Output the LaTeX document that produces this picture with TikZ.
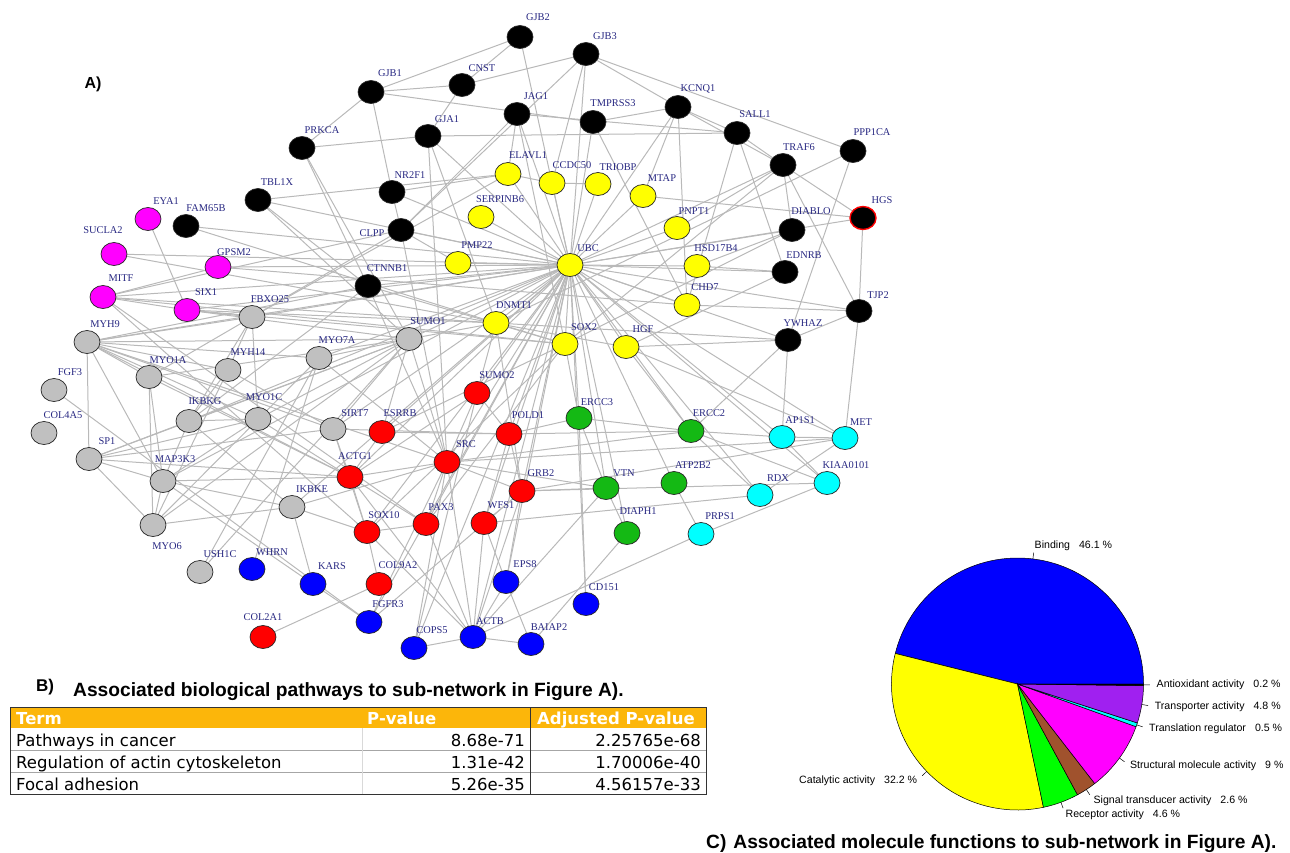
\documentclass[tikz,border=0pt]{standalone}
\usepackage{fontspec}
\setmainfont{Liberation Serif}
\newfontfamily\lsans{Liberation Sans}
\newfontfamily\dvsans{DejaVu Sans}
\usetikzlibrary{shapes.geometric,backgrounds}
\definecolor{lab}{RGB}{40,40,130}
\definecolor{edgegray}{RGB}{185,185,185}
\definecolor{ggray}{RGB}{192,192,192}
\definecolor{ggreen}{RGB}{20,185,20}
\definecolor{gyellow}{RGB}{255,255,0}
\definecolor{gmag}{RGB}{255,0,255}
\definecolor{gcyan}{RGB}{0,255,255}
\definecolor{gblue}{RGB}{0,0,255}
\definecolor{gred}{RGB}{255,0,0}
\definecolor{pgreen}{RGB}{0,255,0}
\definecolor{tblorange}{RGB}{252,182,10}
\definecolor{piepurple}{RGB}{160,32,240}
\definecolor{piebrown}{RGB}{160,82,45}
\tikzset{
 gene/.style={ellipse, draw=black!85, line width=0.7pt, minimum width=26pt, minimum height=23pt, inner sep=0pt},
 glabel/.style={text=lab, font=\fontsize{10.4}{11}\selectfont, inner sep=0pt},
 netedge/.style={draw=edgegray, line width=1pt},
 blk/.style={fill=black}, ylw/.style={fill=gyellow}, mag/.style={fill=gmag},
 gry/.style={fill=ggray}, rd/.style={fill=gred}, grn/.style={fill=ggreen},
 blu/.style={fill=gblue}, cyn/.style={fill=gcyan},
 hgs/.style={fill=black, draw=gred, line width=1.4pt},
 pielab/.style={font=\lsans\fontsize{10.6}{11}\selectfont, inner sep=0pt},
 ttl/.style={font=\lsans\bfseries\fontsize{19.2}{21}\selectfont, inner sep=0pt, anchor=base west},
 tbody/.style={font=\dvsans\fontsize{16.5}{17}\selectfont, inner sep=0pt},
 thead/.style={font=\dvsans\bfseries\fontsize{16.5}{17}\selectfont, text=white, inner sep=0pt},
}
\newcommand\gn[5]{\node[gene,#4] (#1) at (#2,#3) {}; \node[glabel] (#1-lab) at (#5) {#1};}
\begin{document}
\begin{tikzpicture}[x=1pt,y=-1pt]
\useasboundingbox (0,0) rectangle (1290,852);
% ---------- nodes ----------
\gn{GJB2}{520}{37}{blk}{538,17}
\gn{GJB3}{586}{54}{blk}{605,36}
\gn{GJB1}{371}{92}{blk}{390,73}
\gn{CNST}{462}{85}{blk}{482,68}
\gn{JAG1}{517}{114}{blk}{536,96}
\gn{TMPRSS3}{593}{122}{blk}{613,103}
\gn{GJA1}{428}{136}{blk}{447,119}
\gn{PRKCA}{302}{148}{blk}{322,130}
\gn{NR2F1}{392}{192}{blk}{410,175}
\gn{TBL1X}{258}{200}{blk}{277,182}
\gn{CLPP}{401}{230}{blk}{372,233}
\gn{KCNQ1}{678}{107}{blk}{698,89}
\gn{SALL1}{737}{133}{blk}{755,114}
\gn{TRAF6}{783}{165}{blk}{799,147}
\gn{PPP1CA}{853}{151}{blk}{872,132}
\gn{HGS}{863}{218}{hgs}{882,200}
\gn{DIABLO}{792}{230}{blk}{811,211}
\gn{EDNRB}{785}{272}{blk}{804,255}
\gn{TJP2}{859}{311}{blk}{878,295}
\gn{YWHAZ}{788}{340}{blk}{803,323}
\gn{FAM65B}{186}{226}{blk}{206,208}
\gn{CTNNB1}{368}{286}{blk}{387,268}
\gn{ELAVL1}{508}{174}{ylw}{528,155}
\gn{CCDC50}{552}{183}{ylw}{572,165}
\gn{TRIOBP}{598}{184}{ylw}{618,167}
\gn{MTAP}{643}{196}{ylw}{662,178}
\gn{SERPINB6}{481}{217}{ylw}{500,199}
\gn{PMP22}{458}{263}{ylw}{477,245}
\gn{UBC}{570}{265}{ylw}{588,248}
\gn{PNPT1}{677}{228}{ylw}{694,211}
\gn{HSD17B4}{697}{266}{ylw}{716,248}
\gn{CHD7}{687}{305}{ylw}{705,287}
\gn{DNMT1}{496}{323}{ylw}{514,305}
\gn{SOX2}{565}{344}{ylw}{584,327}
\gn{HGF}{626}{347}{ylw}{643,329}
\gn{EYA1}{148}{219}{mag}{166,201}
\gn{SUCLA2}{114}{254}{mag}{103,230}
\gn{GPSM2}{218}{267}{mag}{234,252}
\gn{MITF}{103}{297}{mag}{121,278}
\gn{SIX1}{187}{310}{mag}{206,292}
\gn{FBXO25}{252}{317}{gry}{270,299}
\gn{MYH9}{87}{342}{gry}{105,324}
\gn{MYO1A}{149}{377}{gry}{168,360}
\gn{MYH14}{228}{370}{gry}{248,352}
\gn{MYO7A}{319}{358}{gry}{337,340}
\gn{FGF3}{54}{390}{gry}{70,372}
\gn{SUMO1}{409}{339}{gry}{428,321}
\gn{COL4A5}{44}{433}{gry}{63,415}
\gn{IKBKG}{189}{421}{gry}{205,401}
\gn{MYO1C}{258}{419}{gry}{264,397}
\gn{SIRT7}{333}{429}{gry}{355,413}
\gn{SP1}{89}{459}{gry}{107,441}
\gn{MAP3K3}{163}{481}{gry}{175,459}
\gn{IKBKE}{292}{507}{gry}{312,489}
\gn{MYO6}{153}{525}{gry}{167,546}
\gn{USH1C}{200}{572}{gry}{220,554}
\gn{SUMO2}{477}{393}{rd}{497,375}
\gn{ESRRB}{382}{432}{rd}{400,413}
\gn{POLD1}{509}{434}{rd}{528,415}
\gn{SRC}{447}{462}{rd}{466,444}
\gn{ACTG1}{350}{477}{rd}{355,456}
\gn{GRB2}{522}{491}{rd}{541,473}
\gn{SOX10}{367}{532}{rd}{384,515}
\gn{PAX3}{426}{524}{rd}{441,507}
\gn{WFS1}{484}{523}{rd}{501,505}
\gn{COL9A2}{379}{584}{rd}{398,565}
\gn{COL2A1}{263}{637}{rd}{263,617}
\gn{ERCC3}{579}{418}{grn}{597,402}
\gn{ERCC2}{691}{431}{grn}{709,413}
\gn{VTN}{606}{488}{grn}{624,473}
\gn{ATP2B2}{674}{483}{grn}{693,465}
\gn{DIAPH1}{627}{533}{grn}{638,511}
\gn{AP1S1}{782}{437}{cyn}{800,420}
\gn{MET}{845}{438}{cyn}{861,422}
\gn{RDX}{760}{495}{cyn}{778,478}
\gn{KIAA0101}{827}{483}{cyn}{846,465}
\gn{PRPS1}{701}{534}{cyn}{720,516}
\gn{WHRN}{252}{569}{blu}{272,552}
\gn{KARS}{313}{584}{blu}{332,566}
\gn{FGFR3}{369}{622}{blu}{388,604}
\gn{EPS8}{506}{582}{blu}{525,564}
\gn{CD151}{586}{604}{blu}{604,587}
\gn{COPS5}{414}{648}{blu}{432,630}
\gn{ACTB}{473}{637}{blu}{490,621}
\gn{BAIAP2}{531}{644}{blu}{549,627}
% ---------- edges ----------
\begin{pgfonlayer}{background}
\foreach \a/\b in {UBC/ELAVL1, UBC/CCDC50, UBC/TRIOBP, UBC/MTAP, UBC/SERPINB6, UBC/PMP22, UBC/PNPT1, UBC/HSD17B4, UBC/CHD7, UBC/DNMT1, UBC/SOX2, UBC/HGF, UBC/GJB3, UBC/GJB2, UBC/JAG1, UBC/TMPRSS3, UBC/KCNQ1, UBC/TRAF6, UBC/DIABLO, UBC/EDNRB, UBC/YWHAZ, UBC/TJP2, UBC/CLPP, UBC/CTNNB1, UBC/NR2F1, UBC/GJA1, UBC/SUMO1, UBC/SUMO2, UBC/SRC, UBC/POLD1, UBC/ERCC3, UBC/ERCC2, UBC/VTN, UBC/ATP2B2, UBC/GRB2, UBC/WFS1, UBC/AP1S1, UBC/MET, UBC/RDX, UBC/KIAA0101, UBC/DIAPH1, UBC/ACTB, UBC/EPS8, UBC/COPS5, UBC/PAX3, UBC/ACTG1, UBC/MITF, UBC/SIX1, UBC/FBXO25, UBC/MYH9, UBC/SOX10, UBC/ESRRB, UBC/TBL1X, UBC/FAM65B, UBC/GPSM2, UBC/SUCLA2, UBC/IKBKG, UBC/MAP3K3, UBC/SIRT7, UBC/IKBKE, UBC/HGS, UBC/MYO7A, UBC/FGFR3, UBC/CD151,
GJB2/GJB1, GJB2/CNST, GJB3/CNST, GJB3/KCNQ1, GJB3/CCDC50, GJB3/CLPP, GJB3/PPP1CA, GJB1/CNST, GJB1/PRKCA, GJB1/NR2F1, GJB1/TMPRSS3, CNST/GJA1, KCNQ1/SALL1, KCNQ1/TRAF6, KCNQ1/TMPRSS3, KCNQ1/MTAP, KCNQ1/CHD7, SALL1/TRAF6, SALL1/EDNRB, SALL1/JAG1, SALL1/GJA1, SALL1/CHD7, TRAF6/HGS, TRAF6/DIABLO, TRAF6/TJP2, TRAF6/PNPT1, TRAF6/SOX2, PPP1CA/YWHAZ, PPP1CA/DNMT1, HGS/TJP2, HGS/MTAP, DIABLO/HSD17B4, DIABLO/SOX2, EDNRB/HSD17B4, EDNRB/HGF, TJP2/YWHAZ, TJP2/MET, TJP2/CHD7, YWHAZ/HGF, YWHAZ/AP1S1, YWHAZ/ERCC2, YWHAZ/DNMT1, JAG1/CLPP, JAG1/ELAVL1, JAG1/SOX2, TMPRSS3/CHD7, GJA1/PRKCA, GJA1/SRC, PRKCA/CTNNB1, PRKCA/SUMO1, NR2F1/ELAVL1, NR2F1/CLPP, TBL1X/ELAVL1, TBL1X/SUMO1, TBL1X/CTNNB1, FAM65B/DNMT1, CLPP/PMP22, CLPP/MITF, CLPP/SRC, CTNNB1/MYH9, CTNNB1/SRC, CTNNB1/SOX2, CTNNB1/IKBKG, GJA1/DNMT1,
EYA1/SIX1, SUCLA2/HGF, GPSM2/MITF, GPSM2/CHD7, MITF/SIX1, MITF/SOX10, MITF/SOX2, MITF/DNMT1, MITF/PAX3, SIX1/DNMT1, SIX1/SUMO1, SIX1/FBXO25, SIX1/SOX2,
FBXO25/MYH9, FBXO25/MYO1A, FBXO25/MYH14, FBXO25/MYO1C, FBXO25/CLPP, FBXO25/IKBKG, FBXO25/ELAVL1, MYH9/MYO1A, MYH9/MYH14, MYH9/MYO1C, MYH9/MYO7A, MYH9/SP1, MYH9/SUMO1, MYH9/MAP3K3, MYH9/ACTG1, MYH9/SIRT7, MYH9/SRC, MYO1A/MAP3K3, MYO1A/MYO6, MYO1A/SUMO1, MYO1A/ACTG1, MYH14/IKBKG, MYH14/SIRT7, MYH14/MYO6, MYO7A/MYO6, MYO7A/USH1C, MYO7A/WHRN, MYO7A/SUMO1, MYO7A/SRC, FGF3/FGFR3, SP1/IKBKG, SP1/MYO1C, SP1/SIRT7, SP1/MAP3K3, SP1/MYO6, SP1/ACTG1, SP1/SUMO1, IKBKG/MAP3K3, IKBKG/IKBKE, IKBKG/MYO1C, IKBKG/SUMO1, MYO1C/MAP3K3, MYO1C/ACTG1, MYO1C/SUMO1, MAP3K3/MYO6, MAP3K3/ACTG1, MAP3K3/IKBKE, MAP3K3/KARS, MYO6/IKBKE, MYO6/SUMO1, SIRT7/SUMO1, SIRT7/POLD1, SIRT7/SOX10, IKBKE/SOX10, IKBKE/KARS, IKBKE/SRC, USH1C/SUMO1,
KARS/FGFR3, COL2A1/COL9A2, COL9A2/SOX10, FGFR3/SRC, FGFR3/GRB2, COPS5/ACTB, COPS5/SRC, COPS5/SUMO2, ACTB/BAIAP2, ACTB/EPS8, ACTB/SRC, ACTB/ACTG1, ACTB/WFS1, ACTB/GRB2, ACTB/PRPS1, ACTB/SOX10, ACTB/PAX3, ACTB/VTN, EPS8/WFS1, EPS8/BAIAP2, EPS8/GRB2, BAIAP2/DIAPH1, CD151/ERCC3, DIAPH1/VTN, PRPS1/ATP2B2, PRPS1/KIAA0101, VTN/GRB2, VTN/SRC, WFS1/RDX, VTN/ERCC3, RDX/ERCC2, RDX/MET, AP1S1/MET, AP1S1/KIAA0101, AP1S1/ERCC2, MET/SRC, MET/GRB2, MET/HGF, KIAA0101/GRB2, KIAA0101/ERCC2, ERCC2/ERCC3, ERCC2/POLD1, ERCC2/SRC, ERCC3/POLD1, ERCC3/SOX2, SUMO2/SRC, SUMO2/POLD1, SUMO2/DNMT1, SUMO2/ACTG1, ESRRB/SOX2, ESRRB/POLD1, ESRRB/SUMO1, POLD1/WFS1, POLD1/GRB2, SRC/GRB2, SRC/ACTG1, SRC/SUMO1, SRC/PAX3, ACTG1/SOX10, ACTG1/PAX3, ACTG1/ESRRB, ACTG1/SIRT7, GRB2/WFS1, SOX10/PAX3, SOX10/SOX2, PAX3/SOX2,
ELAVL1/CCDC50, CCDC50/TRIOBP, DNMT1/SOX2, DNMT1/SUMO1, DNMT1/GRB2, HGF/ERCC2}
  \draw[netedge] (\a.center) -- (\b.center);
\end{pgfonlayer}
% ---------- titles ----------
\node[font=\lsans\bfseries\fontsize{16}{18}\selectfont, inner sep=0pt] (tA) at (93,84) {A)};
\node[font=\lsans\bfseries\fontsize{17}{19}\selectfont, inner sep=0pt, anchor=base west] (tB) at (36,691) {B)};
\node[ttl] (tBtext) at (73,696) {Associated biological pathways to sub-network in Figure A).};
\node[ttl] (tC) at (706,848) {C)\hspace{7pt}Associated molecule functions to sub-network in Figure A).};
% ---------- table ----------
\fill[tblorange] (10,707) rectangle (706,728);
\draw[black!35, line width=0.6pt] (10,750) -- (706,750) (10,772) -- (706,772);
\draw[black!15, line width=0.6pt] (362,728) -- (362,794);
\draw[black!80, line width=0.8pt] (530,707) -- (530,794);
\draw[black!80, line width=0.8pt] (10,707) rectangle (706,794);
\node[thead, anchor=base west] (h1) at (16,724) {Term};
\node[thead, anchor=base west] (h2) at (367,724) {P-value};
\node[thead, anchor=base west] (h3) at (537,724) {Adjusted P-value};
\node[tbody, anchor=base west] (r1a) at (16,746) {Pathways in cancer};
\node[tbody, anchor=base east] (r1b) at (525,746) {8.68e-71};
\node[tbody, anchor=base east] (r1c) at (701,746) {2.25765e-68};
\node[tbody, anchor=base west] (r2a) at (16,768) {Regulation of actin cytoskeleton};
\node[tbody, anchor=base east] (r2b) at (525,768) {1.31e-42};
\node[tbody, anchor=base east] (r2c) at (701,768) {1.70006e-40};
\node[tbody, anchor=base west] (r3a) at (16,790) {Focal adhesion};
\node[tbody, anchor=base east] (r3b) at (525,790) {5.26e-35};
\node[tbody, anchor=base east] (r3c) at (701,790) {4.56157e-33};
% ---------- pie ----------
\begin{scope}[shift={(1017.5,684)}, yscale=-1]
\foreach \s/\e/\c in {0/165.96/gblue, 165.96/281.88/gyellow, 281.88/298.44/pgreen, 298.44/307.8/piebrown, 307.8/340.2/gmag, 340.2/342/gcyan, 342/359.28/piepurple, 359.28/360/black}
  \filldraw[fill=\c, draw=black, line width=0.5pt] (0,0) -- (\s:126) arc (\s:\e:126) -- cycle;
\foreach \m/\anc/\t [count=\i] in {
  82.98/west/{Binding\hspace{9pt}46.1 \%},
  223.92/east/{Catalytic activity\hspace{9pt}32.2 \%},
  290.16/west/{Receptor activity\hspace{9pt}4.6 \%},
  303.12/west/{Signal transducer activity\hspace{9pt}2.6 \%},
  324.0/west/{Structural molecule activity\hspace{9pt}9 \%},
  341.1/west/{Translation regulator\hspace{9pt}0.5 \%},
  350.64/west/{Transporter activity\hspace{9pt}4.8 \%},
  359.64/west/{Antioxidant activity\hspace{9pt}0.2 \%}} {
  \draw[black, line width=0.5pt] (\m:126) -- (\m:132.3);
  \node[pielab, anchor=\anc] (pl\i) at (\m:139) {\t};
}
\end{scope}
\end{tikzpicture}
\end{document}
